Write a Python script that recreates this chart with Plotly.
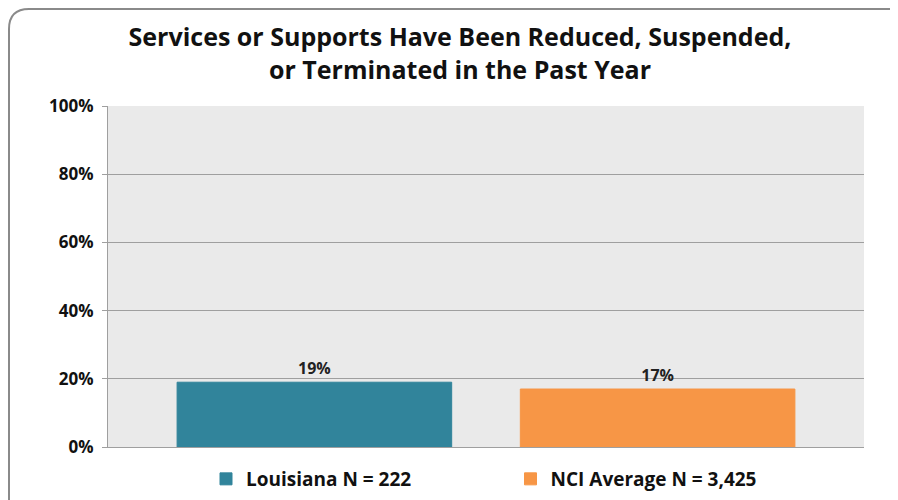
import plotly.graph_objects as go

# datos
series = ['Louisiana N = 222', 'NCI Average N = 3,425']
valores = [19, 17]
colores = ['#31849b', '#f79646']
categoria = ['']
ticks_y = [0, 20, 40, 60, 80, 100]
ticks_txt = ['0%', '20%', '40%', '60%', '80%', '100%']

FUENTE = 'Open Sans, Calibri, sans-serif'

# la pagina tiene 8px de margen en el body: la figura se corre 8px
W, H = 890, 492
ml, mr, mt, mb = 100, 34, 98, 53
pw, ph = W - ml - mr, H - mt - mb


def px(x):
    return (x - ml) / pw


def py(y):
    return (H - mb - y) / ph


fig = go.Figure()
leyendas = ['legend', 'legend2']
for nombre, v, c, lg in zip(series, valores, colores, leyendas):
    fig.add_trace(go.Bar(
        x=categoria,
        y=[v],
        name=f'<b>{nombre}</b>',
        marker_color=c,
        marker_line=dict(color=c, width=1),
        text=[f'<b>{v}%</b>'],
        textposition='outside',
        textfont=dict(size=16, color='#222', family=FUENTE),
        cliponaxis=False,
        legend=lg,
        showlegend=True,
    ))

marco = (f'M {px(1)},{py(520)} L {px(1)},{py(21)} '
         f'Q {px(1)},{py(1)} {px(21)},{py(1)} L {px(900)},{py(1)}')

estilo_leyenda = dict(
    orientation='h', y=py(471), yanchor='middle', xanchor='center',
    font=dict(size=19, color='#111', family=FUENTE),
    itemwidth=30, bgcolor='rgba(0,0,0,0)', visible=True,
)

fig.update_layout(
    width=W, height=H,
    margin=dict(l=ml, r=mr, t=mt, b=mb, autoexpand=False),
    paper_bgcolor='white',
    plot_bgcolor='#eaeaea',
    showlegend=True,
    barmode='group',
    bargap=0.092,
    bargroupgap=0.2,
    title=dict(
        text='<b>Services or Supports Have Been Reduced, Suspended,<br>or Terminated in the Past Year</b>',
        x=452 / W, xanchor='center', y=1 - 38 / H, yanchor='middle',
        font=dict(size=25, color='#111', family=FUENTE),
    ),
    yaxis=dict(
        range=[0, 100],
        tickvals=ticks_y,
        ticktext=[f'<b>{t}</b>' for t in ticks_txt],
        tickfont=dict(size=17, color='#111', family=FUENTE),
        showgrid=True, gridcolor='#9f9f9f', gridwidth=1,
        showline=True, linecolor='#9f9f9f', linewidth=1,
        ticks='outside', ticklen=5, tickcolor='#9f9f9f',
        ticklabelstandoff=5,
        zeroline=False,
    ),
    xaxis=dict(
        showticklabels=False,
        showline=True, linecolor='#9f9f9f', linewidth=1,
        showgrid=False,
    ),
    legend=dict(x=px(303.5), **estilo_leyenda),
    legend2=dict(x=px(628), **estilo_leyenda),
    shapes=[dict(type='path', path=marco, xref='paper', yref='paper',
                 line=dict(color='#8a8a8a', width=2))],
)

fig.write_html('out.html')
